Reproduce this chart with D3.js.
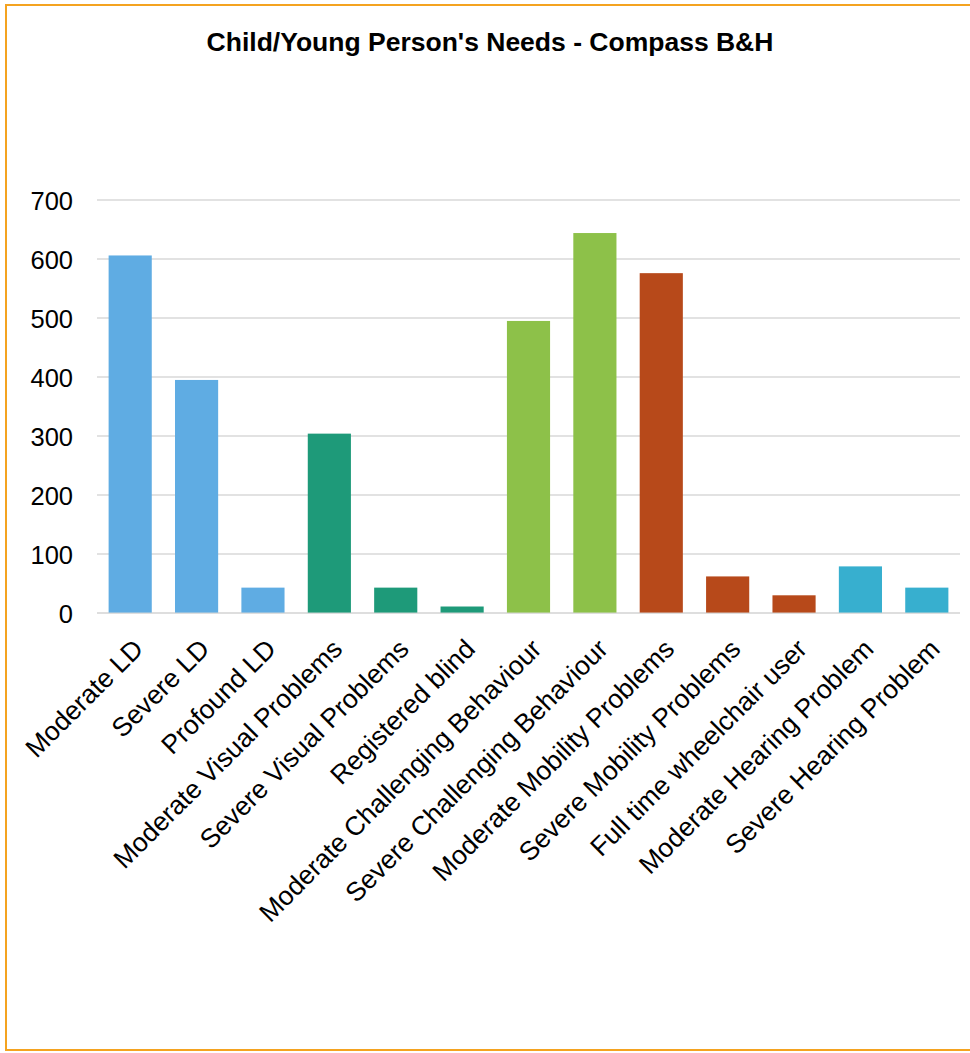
<!DOCTYPE html>
<html>
<head>
<meta charset="utf-8">
<script src="https://cdn.jsdelivr.net/npm/d3@7"></script>
<style>
  html, body { margin: 0; padding: 0; background: #fff; }
  svg { display: block; }
</style>
</head>
<body>
<svg id="chart"></svg>
<script>
// Chart data
const categories = [
    "Moderate LD", "Severe LD", "Profound LD",
    "Moderate Visual Problems", "Severe Visual Problems", "Registered blind",
    "Moderate Challenging Behaviour", "Severe Challenging Behaviour",
    "Moderate Mobility Problems", "Severe Mobility Problems", "Full time wheelchair user",
    "Moderate Hearing Problem", "Severe Hearing Problem"
];
const values = [606, 395, 43, 304, 43, 11, 495, 644, 576, 62, 30, 79, 43];
const groups = ["ld", "ld", "ld", "visual", "visual", "visual", "behaviour", "behaviour",
    "mobility", "mobility", "mobility", "hearing", "hearing"];
const yTicks = [0, 100, 200, 300, 400, 500, 600, 700];
const title = "Child/Young Person's Needs - Compass B&H";

// Colour per group
const getColor = (group) => {
    switch (group) {
        case "ld": return "#5FACE3";
        case "visual": return "#1E9A79";
        case "behaviour": return "#8DC149";
        case "mobility": return "#B7491A";
        default: return "#37AFCF";
    }
}

const width = 970;
const height = 1053;
const margin = { top: 200, right: 10, bottom: 440, left: 97 };
const font = "Liberation Sans, Arial, sans-serif";

const svg = d3.select("#chart")
    .attr("width", width)
    .attr("height", height);

// Frame
svg.append("rect")
    .attr("x", 6)
    .attr("y", 5)
    .attr("width", width + 10)
    .attr("height", 1045)
    .attr("fill", "#fff")
    .attr("stroke", "#F4A320")
    .attr("stroke-width", 2);

// Title
svg.append("text")
    .attr("x", 490)
    .attr("y", 51)
    .attr("text-anchor", "middle")
    .attr("font-family", font)
    .attr("font-weight", "bold")
    .attr("font-size", "26.5px")
    .attr("fill", "#000")
    .text(title);

// Scales
const x = d3.scaleBand()
    .domain(categories)
    .range([margin.left, width - margin.right])
    .paddingInner(0.35)
    .paddingOuter(0.175);

const y = d3.scaleLinear()
    .domain([0, 700])
    .range([height - margin.bottom, margin.top]);

// Gridlines
svg.append("g")
    .selectAll("line")
    .data(yTicks)
    .join("line")
    .attr("x1", margin.left)
    .attr("x2", width - margin.right)
    .attr("y1", d => y(d))
    .attr("y2", d => y(d))
    .attr("stroke", "#D9D9D9")
    .attr("stroke-width", 1.5);

// Y axis labels
const yAxis = svg.append("g")
    .attr("transform", `translate(${margin.left - 24},0)`)
    .call(d3.axisLeft(y).tickValues(yTicks).tickSize(0).tickPadding(0));
yAxis.select(".domain").remove();
yAxis.selectAll("text")
    .attr("font-family", font)
    .attr("font-size", "25.5px")
    .attr("dy", "0.36em")
    .attr("fill", "#000");

// Bars
svg.append("g")
    .selectAll("rect")
    .data(values)
    .join("rect")
    .attr("x", (d, i) => x(categories[i]))
    .attr("y", d => y(d))
    .attr("width", x.bandwidth())
    .attr("height", d => y(0) - y(d))
    .attr("fill", (d, i) => getColor(groups[i]));

// Baseline over bars (semi-transparent, as in the original)
svg.append("line")
    .attr("x1", margin.left)
    .attr("x2", width - margin.right)
    .attr("y1", y(0))
    .attr("y2", y(0))
    .attr("stroke", "#D9D9D9")
    .attr("stroke-opacity", 0.6)
    .attr("stroke-width", 1.5);

// X axis labels, rotated
const xAxis = svg.append("g")
    .attr("transform", `translate(0,${y(0)})`)
    .call(d3.axisBottom(x).tickSize(0).tickPadding(0));
xAxis.select(".domain").remove();
xAxis.selectAll("text")
    .attr("font-family", font)
    .attr("font-size", "26.5px")
    .attr("fill", "#000")
    .attr("text-anchor", "end")
    .attr("dy", "0.35em")
    .attr("transform", "translate(8,31) rotate(-45)");
</script>
</body>
</html>
